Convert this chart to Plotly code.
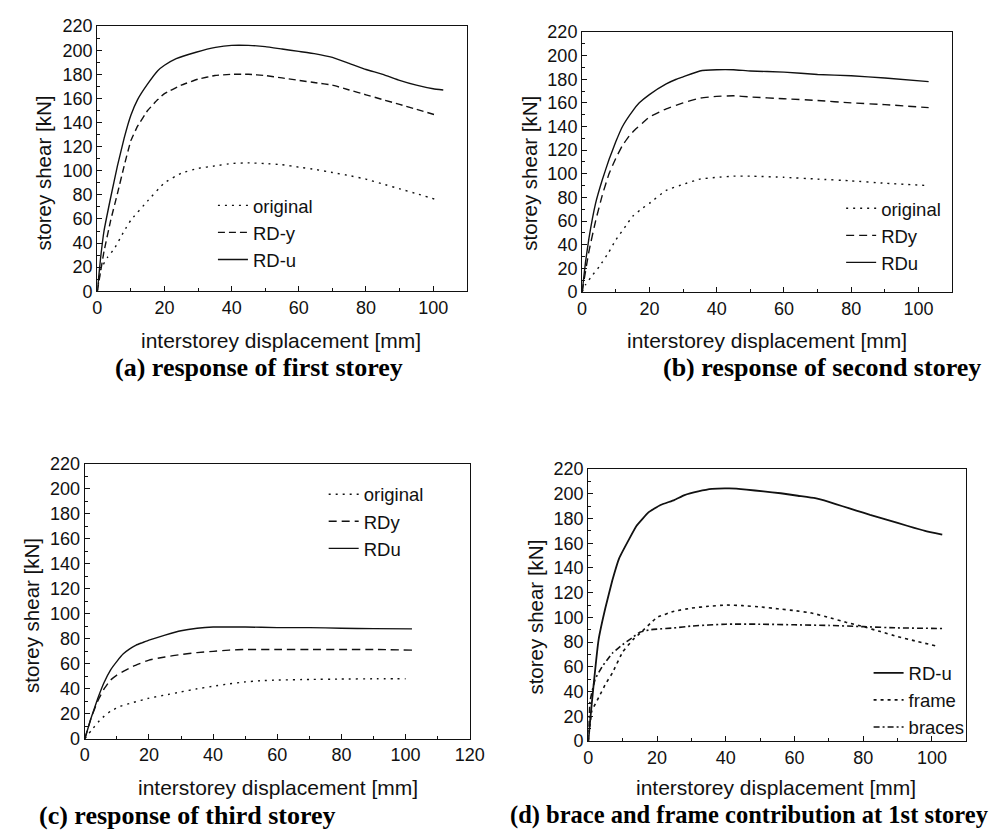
import plotly.graph_objects as go

W, H = 1003, 832

# ---------------- data ----------------
# (a) response of first storey
a_orig_x = [0, 1, 3, 5, 8, 10, 15, 20, 25, 30, 35, 40, 45, 50, 55, 60, 65, 70, 75, 80, 85, 90, 95, 101]
a_orig_y = [0, 18, 28, 35, 50, 59, 75, 90, 98, 102, 104, 106, 106.5, 106, 105, 103, 101, 98.5, 96, 93, 89, 85, 81, 76]
a_rdy_x = [0, 2, 4, 6, 8, 10, 12, 15, 18, 20, 25, 30, 35, 40, 45, 50, 55, 60, 65, 70, 75, 80, 85, 90, 95, 101]
a_rdy_y = [0, 33, 59, 81, 104, 125, 137, 150, 159, 164, 171, 176, 179, 180, 180, 179, 177, 175, 173, 171, 167, 163, 159, 155, 151, 146]
a_rdu_x = [0, 1, 2, 4, 6, 8, 10, 12, 15, 18, 20, 23.5, 29.4, 35.2, 40, 45, 50, 55, 60, 65, 70, 75, 80, 85, 90, 95, 100, 103]
a_rdu_y = [0, 28, 50, 78, 104, 127, 146, 159, 172, 183, 187.5, 193, 198.3, 202.3, 204, 204, 203, 201, 199, 197, 194, 189, 184, 180, 175, 171, 168, 167]

# (b) response of second storey
b_orig_x = [0, 1, 3, 5, 8, 10, 13, 15, 18, 20, 25, 30, 35, 40, 45, 50, 60, 70, 80, 90, 103]
b_orig_y = [0, 6, 14, 21, 34, 44, 56, 64, 71, 75, 86, 91, 95.5, 97, 98, 98, 97, 95.5, 94, 92, 90]
b_rdy_x = [0, 2, 4, 6, 8, 10, 12, 14, 16, 18, 20, 25, 30, 35, 40, 45, 50, 60, 70, 80, 90, 103]
b_rdy_y = [0, 34, 60, 82, 100, 113, 124, 132, 138, 143, 148, 155, 160, 164, 165.5, 166, 165, 163.5, 162, 160, 158.5, 156]
b_rdu_x = [0, 1, 2, 4, 6, 8, 10, 12, 15, 17, 20, 25, 28, 30, 35, 40, 45, 50, 60, 70, 80, 90, 103]
b_rdu_y = [0, 25, 45, 75, 95, 112, 127, 140, 153, 160, 167, 176, 180, 182, 187, 188, 188, 187, 186, 184, 183, 181, 178]

# (c) response of third storey
c_orig_x = [0, 2, 5, 8, 11, 15, 20, 25, 30, 35, 40, 45, 50, 55, 60, 70, 80, 90, 100]
c_orig_y = [0, 6.6, 15.8, 22, 26, 29, 32.5, 35, 37.5, 40, 42, 44, 45.5, 46.5, 47, 47.5, 47.8, 48, 48]
c_rdy_x = [0, 2, 4, 6, 8, 10, 12, 15, 20, 25, 30, 35, 40, 45, 50, 60, 70, 80, 90, 102]
c_rdy_y = [0, 17, 30, 40, 47, 51, 54, 58, 63, 65.5, 67.5, 69, 70, 71, 71.5, 71.5, 71.5, 71.5, 71.5, 71]
c_rdu_x = [0, 2, 4, 6, 8, 10, 12, 14, 16, 18, 20, 25, 30, 35, 40, 50, 60, 70, 80, 90, 102]
c_rdu_y = [0, 17, 32, 45, 55, 62, 68, 72, 75, 77, 79, 83, 86.5, 88.5, 89.5, 89.5, 89, 89, 88.5, 88.2, 88]

# (d) brace and frame contribution at 1st storey
d_rdu_x = [0, 1, 3, 5, 7, 9, 12, 14, 17.5, 21, 25, 28, 32, 36, 41, 46, 51, 56, 61, 66, 70, 74, 78, 82, 87, 93, 98, 103]
d_rdu_y = [0, 30, 82, 108, 130, 148, 164, 174, 185, 191, 195, 199, 202, 204, 204.4, 203.5, 202, 200.5, 198.5, 196.5, 193.5, 190, 186.5, 183, 179, 174, 170, 167]
d_frame_x = [0, 1, 3, 5, 7, 10, 13, 15, 18, 20, 25, 30, 35, 40, 45, 50, 55, 60, 65, 70, 75, 80, 85, 90, 95, 101]
d_frame_y = [0, 24, 35, 46, 55, 72, 82, 87, 95, 100, 105, 107.5, 109, 110, 109.5, 108.5, 107, 105.5, 103.5, 100, 96, 92.5, 88.5, 84.5, 81, 77]
d_brace_x = [0, 0.5, 2, 4, 7, 10, 13, 15, 18, 20, 25, 30, 40, 50, 60, 70, 80, 90, 103]
d_brace_y = [0, 32, 50, 60, 71, 78, 84, 88, 90, 90.5, 91.5, 93, 94.5, 94.5, 94, 93.5, 92.5, 91.5, 91]

captions = ["(a) response of first storey", "(b) response of second storey",
            "(c) response of third storey", "(d) brace and frame contribution at 1st storey"]
x_title = "interstorey displacement [mm]"
y_title = "storey shear [kN]"

# ---------------- figure ----------------
SANS = "Liberation Sans, Arial, sans-serif"
SERIF = "Liberation Serif, Times New Roman, serif"
INK = "#111111"

fig = go.Figure()

def add(x, y, name, dash, ax, leg, width=1.4):
    fig.add_trace(go.Scatter(x=x, y=y, name=name, mode="lines",
                             line=dict(color=INK, width=width, dash=dash, shape="spline", smoothing=0.3),
                             xaxis="x" + ax, yaxis="y" + ax, legend=leg, hoverinfo="skip"))

DOT = "2px,5px"
add(a_orig_x, a_orig_y, "original", DOT, "", "legend")
add(a_rdy_x, a_rdy_y, "RD-y", "7px,4px", "", "legend")
add(a_rdu_x, a_rdu_y, "RD-u", "solid", "", "legend")

add(b_orig_x, b_orig_y, "original", DOT, "2", "legend2")
add(b_rdy_x, b_rdy_y, "RDy", "8px,5px", "2", "legend2")
add(b_rdu_x, b_rdu_y, "RDu", "solid", "2", "legend2")

add(c_orig_x, c_orig_y, "original", DOT, "3", "legend3")
add(c_rdy_x, c_rdy_y, "RDy", "8px,5px", "3", "legend3")
add(c_rdu_x, c_rdu_y, "RDu", "solid", "3", "legend3")

add(d_rdu_x, d_rdu_y, "RD-u", "solid", "4", "legend4", width=1.8)
add(d_frame_x, d_frame_y, "frame", "3px,4px", "4", "legend4", width=1.6)
add(d_brace_x, d_brace_y, "braces", "6px,3px,2px,3px", "4", "legend4", width=1.6)

# panel boxes in pixels: (left, right, top, bottom, xmax)
panels = [(86, 463, 8.3, 280, 110), (580.7, 958.3, 14.3, 280.7, 110),
          (73.3, 466, 457, 738.5, 120), (587, 972.7, 462.3, 740.7, 110)]

layout = dict(width=W, height=H, margin=dict(l=0, r=0, t=0, b=0),
              paper_bgcolor="white", plot_bgcolor="white", showlegend=True,
              font=dict(family=SANS, size=18, color=INK))

for i, (l, r, t, b, xmax) in enumerate(panels):
    sfx = "" if i == 0 else str(i + 1)
    common = dict(showline=True, linecolor=INK, linewidth=1.2, mirror=True,
                  showgrid=False, zeroline=False, ticks="inside", ticklen=5,
                  tickcolor=INK, tickwidth=1, tick0=0, dtick=20,
                  tickfont=dict(family=SANS, size=18, color=INK),
                  minor=dict(ticks="inside", ticklen=3, dtick=10, tickcolor=INK, tickwidth=1))
    layout["xaxis" + sfx] = dict(common, domain=[l / W, r / W], range=[0, xmax],
                                 anchor="y" + sfx, fixedrange=True)
    layout["yaxis" + sfx] = dict(common, domain=[1 - b / H, 1 - t / H], range=[0, 220],
                                 anchor="x" + sfx, fixedrange=True)

# legends (text start x, first-row top y in pixels)
leg_pos = [(244, 173), (885, 176), (357, 469), (913, 652)]
for i, (lx, ly) in enumerate(leg_pos):
    key = "legend" if i == 0 else "legend" + str(i + 1)
    layout[key] = dict(x=(lx - 40) / W, y=1 - ly / H, xanchor="left", yanchor="top",
                       bgcolor="rgba(0,0,0,0)", borderwidth=0, tracegroupgap=0,
                       font=dict(family=SANS, size=18.5, color=INK), itemwidth=30)

fig.update_layout(**layout)

# axis titles and captions
ann = []
ytitle_pos = [(31, 159), (527, 159), (19, 612), (533, 614)]
xtitle_pos = [(273, 330), (769, 330), (270, 788), (779, 788)]
# caption anchor x, y, horizontal anchor, size
cap_pos = [(251, 358, "center", 26), (990, 358, "right", 26),
           (178, 817, "center", 26), (998, 817, "right", 24.5)]
for (yx, yy), (xx, xy), (cx, cy, anc, cs), cap in zip(ytitle_pos, xtitle_pos, cap_pos, captions):
    ann.append(dict(x=yx / W, y=1 - yy / H, xref="paper", yref="paper", text=y_title,
                    textangle=-90, showarrow=False, xanchor="center", yanchor="middle",
                    font=dict(family=SANS, size=20.5, color=INK)))
    ann.append(dict(x=xx / W, y=1 - xy / H, xref="paper", yref="paper", text=x_title,
                    showarrow=False, xanchor="center", yanchor="middle",
                    font=dict(family=SANS, size=21, color=INK)))
    ann.append(dict(x=cx / W, y=1 - cy / H, xref="paper", yref="paper", text="<b>" + cap + "</b>",
                    showarrow=False, xanchor=anc, yanchor="middle",
                    font=dict(family=SERIF, size=cs, color="#000000")))
fig.update_layout(annotations=ann)

fig.write_html("out.html")
